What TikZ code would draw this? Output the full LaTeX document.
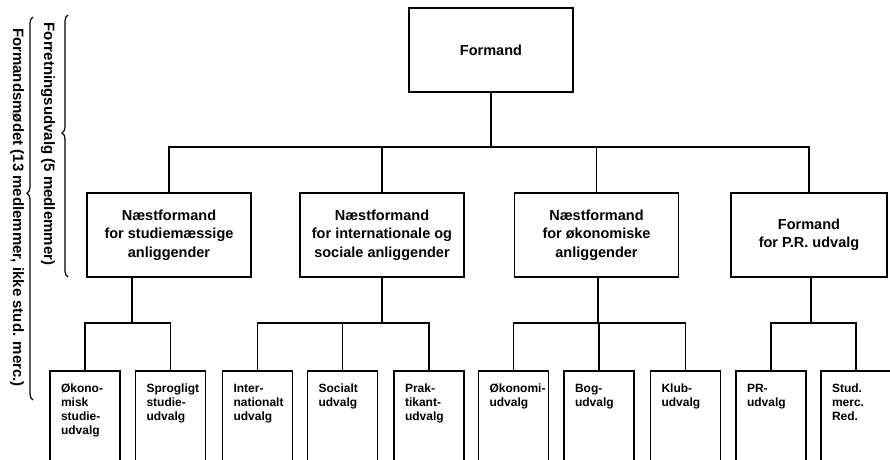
\documentclass[tikz,border=0pt]{standalone}
\usepackage{fontspec}
\setmainfont{Liberation Sans}
\usepackage{tikz}
\usetikzlibrary{decorations.pathreplacing}
\def\subtext#1{\parbox[t][80pt][t]{70pt}{\raggedright\leftskip=11pt #1}}
\tikzset{
	mainbox/.style={draw, line width=1.5pt, minimum width=164pt, minimum height=84pt, inner sep=0pt, align=center, font=\bfseries\fontsize{14.5}{18.5}\selectfont},
	subbox/.style={draw, line width=1.5pt, anchor=north, inner xsep=0pt, inner ysep=13pt, font=\bfseries\fontsize{12}{14}\selectfont},
	link/.style={line width=1.5pt},
	bracket/.style={decorate, decoration={brace, amplitude=6pt, aspect=#1}, line width=1.2pt},
	sidetext/.style={rotate=-90, font=\bfseries\fontsize{15}{18}\selectfont}
}

\begin{document}
\begin{tikzpicture}[x=1pt, y=-1pt]
		%%%%% START %%%%%
		\useasboundingbox (0,0) rectangle (890,459);
		\clip (0,0) rectangle (890,459);
		
		\node[mainbox] (formand) at (491,50) {Formand};
		
		\node[mainbox] (studie) at (169,235) {Næstformand\\for studiemæssige\\anliggender};
		\node[mainbox] (intl) at (382,235) {Næstformand\\for internationale og\\sociale anliggender};
		\node[mainbox] (okon) at (596.5,235) {Næstformand\\for økonomiske\\anliggender};
		\node[mainbox, minimum width=156pt] (pr) at (809,235) {Formand\\for P.R. udvalg};
		
		\node[subbox] (oekstudie) at (85,370) {\subtext{Økono-\\misk\\studie-\\udvalg}};
		\node[subbox] (sprog) at (170.5,370) {\subtext{Sprogligt\\studie-\\udvalg}};
		\node[subbox] (inter) at (257.5,370) {\subtext{Inter-\\nationalt\\udvalg}};
		\node[subbox] (social) at (342.5,370) {\subtext{Socialt\\udvalg}};
		\node[subbox] (praktik) at (429,370) {\subtext{Prak-\\tikant-\\udvalg}};
		\node[subbox] (oekudv) at (513.5,370) {\subtext{Økonomi-\\udvalg}};
		\node[subbox] (bog) at (599,370) {\subtext{Bog-\\udvalg}};
		\node[subbox] (klub) at (685.5,370) {\subtext{Klub-\\udvalg}};
		\node[subbox] (prudv) at (771,370) {\subtext{PR-\\udvalg}};
		\node[subbox] (red) at (856,370) {\subtext{Stud.\\merc.\\Red.}};
		
		% bus lines
		\coordinate (top) at (491,147);
		\coordinate (bus1) at (132,323);
		\coordinate (bus2) at (382,323);
		\coordinate (bus3) at (598,323);
		\coordinate (bus4) at (811,323);
		
		\draw[link] (formand.south) -- (formand.south |- top);
		\draw[link] (studie.north) |- (top) -| (pr.north);
		\draw[link] (intl.north) -- (intl.north |- top);
		\draw[link] (okon.north) -- (okon.north |- top);
		
		\draw[link] (studie.south -| bus1) -- (bus1);
		\draw[link] (oekstudie.north) |- (bus1) -| (sprog.north);
		
		\draw[link] (intl.south -| bus2) -- (bus2);
		\draw[link] (inter.north) |- (bus2) -| (praktik.north);
		\draw[link] (social.north) -- (social.north |- bus2);
		
		\draw[link] (okon.south -| bus3) -- (bus3);
		\draw[link] (oekudv.north) |- (bus3) -| (klub.north);
		\draw[link] (bog.north) -- (bog.north |- bus3);
		
		\draw[link] (pr.south -| bus4) -- (bus4);
		\draw[link] (prudv.north) |- (bus4) -| (red.north);
		
		% side labels
		\node[sidetext] (forretning) at (48,144) {Forretningsudvalg (5 medlemmer)};
		\node[sidetext] (formandsmode) at (17,207.5) {Formandsmødet (13 medlemmer, ikke stud. merc.)};
		\coordinate (fbot) at (68,277);
		\coordinate (ftop) at (68,15);
		\coordinate (mbot) at (33,400);
		\coordinate (mtop) at (33,17);
		\draw[bracket=0.55] (fbot) -- (ftop);
		\draw[bracket=0.54] (mbot) -- (mtop);
		%%%%% END %%%%%
\end{tikzpicture}
\end{document}
